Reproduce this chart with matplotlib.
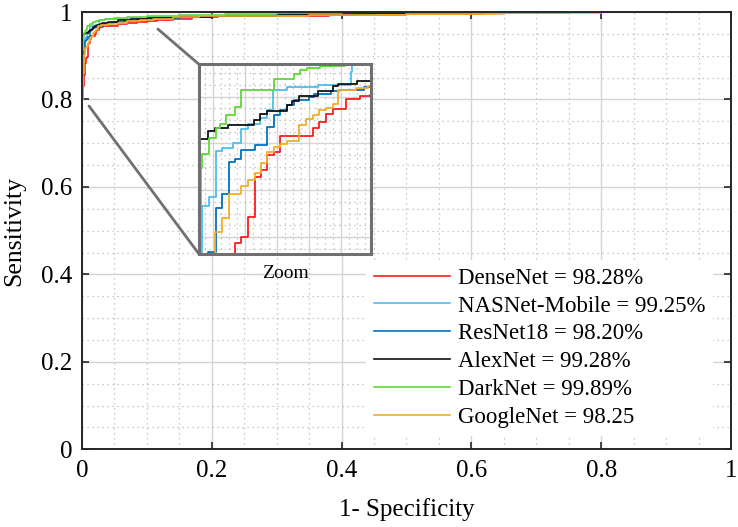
import numpy as np
import matplotlib
matplotlib.use('Agg')
import matplotlib.pyplot as plt
from matplotlib.ticker import MultipleLocator, FixedLocator, FuncFormatter
from matplotlib.patches import ConnectionPatch

plt.rcParams['font.family'] = ['Liberation Serif', 'DejaVu Serif']

# ---------------- data (ROC points: FPR, TPR) ----------------
densenet_fpr = [0, 0, 0.0012, 0.0025, 0.0040, 0.0052, 0.0063, 0.0073, 0.0085, 0.0097, 0.0108, 0.0119,
                0.0131, 0.0141, 0.0198, 0.0209, 0.0221, 0.0233, 0.0256, 0.0280, 0.0298,
                0.033, 0.04, 0.055, 0.07, 0.085, 0.1, 0.115, 0.14, 0.17, 0.21, 0.28, 0.38, 0.5, 0.62, 0.75, 1.0]
densenet_tpr = [0, 0.80, 0.83, 0.855, 0.872, 0.884, 0.8951, 0.8979, 0.9077, 0.9266, 0.9298, 0.9369,
                0.9382, 0.9459, 0.9498, 0.9527, 0.9566, 0.9590, 0.9637, 0.9648, 0.9656,
                0.967, 0.969, 0.972, 0.975, 0.977, 0.979, 0.982, 0.985, 0.988, 0.990, 0.992, 0.994, 0.996, 0.998, 1.0, 1.0]

nasnet_fpr = [0, 0, 0.0001, 0.0005, 0.0017, 0.0030, 0.0041, 0.0060, 0.0073, 0.0086, 0.0106, 0.0118,
              0.0129, 0.0153, 0.0208, 0.0265, 0.0267, 0.0275,
              0.035, 0.05, 0.07, 0.1, 0.15, 0.22, 0.32, 0.45, 0.5, 1.0]
nasnet_tpr = [0, 0.76, 0.86, 0.9129, 0.9172, 0.9388, 0.9405, 0.9429, 0.9492, 0.9519, 0.9543, 0.9582,
              0.9677, 0.9691, 0.9704, 0.9764, 0.9795, 0.9815,
              0.983, 0.985, 0.987, 0.989, 0.991, 0.993, 0.996, 0.999, 1.0, 1.0]

resnet_fpr = [0, 0, 0.0006, 0.0009, 0.0016, 0.0029, 0.0040, 0.0052, 0.0063, 0.0073, 0.0098, 0.0118,
              0.0130, 0.0141, 0.0153, 0.0166, 0.0192, 0.0201, 0.0230, 0.0244, 0.0287,
              0.032, 0.04, 0.05, 0.065, 0.085, 0.11, 0.15, 0.2, 0.3, 0.42, 0.55, 1.0]
resnet_tpr = [0, 0.77, 0.85, 0.87, 0.8911, 0.9116, 0.9187, 0.9337, 0.9353, 0.9393, 0.9419, 0.9503,
              0.9558, 0.9582, 0.9609, 0.9630, 0.9645, 0.9661, 0.9672, 0.9680, 0.9690,
              0.972, 0.975, 0.977, 0.980, 0.983, 0.986, 0.989, 0.991, 0.994, 0.997, 1.0, 1.0]

alexnet_fpr = [0, 0, 0.0001, 0.0016, 0.0028, 0.0051, 0.0096, 0.0106, 0.0119, 0.0153, 0.0162, 0.0175,
               0.0208, 0.0233, 0.0243, 0.0275,
               0.031, 0.04, 0.055, 0.075, 0.1, 0.14, 0.2, 0.3, 0.45, 0.6, 1.0]
alexnet_tpr = [0, 0.82, 0.9445, 0.9483, 0.9498, 0.9514, 0.9535, 0.9563, 0.9579, 0.9606, 0.9626, 0.9648,
               0.9672, 0.9696, 0.9708, 0.9719,
               0.974, 0.977, 0.981, 0.984, 0.987, 0.989, 0.992, 0.995, 0.998, 1.0, 1.0]

darknet_fpr = [0, 0, 0.0001, 0.0004, 0.0006, 0.0017, 0.0030, 0.0036, 0.0047, 0.0063, 0.0073, 0.0131,
               0.0166, 0.0177, 0.0188, 0.0211, 0.0255,
               0.035, 0.05, 0.07, 0.1, 0.15, 0.22, 0.3, 0.4, 0.45, 1.0]
darknet_tpr = [0, 0.73, 0.88, 0.9306, 0.9374, 0.9448, 0.9498, 0.9519, 0.9558, 0.9598, 0.9677, 0.9732,
               0.9756, 0.9772, 0.9783, 0.9792, 0.9815,
               0.984, 0.987, 0.989, 0.991, 0.993, 0.995, 0.997, 0.999, 1.0, 1.0]

googlenet_fpr = [0, 0, 0.0007, 0.0016, 0.0028, 0.0040, 0.0052, 0.0074, 0.0086, 0.0097, 0.0108, 0.0119,
                 0.0131, 0.0141, 0.0153, 0.0175, 0.0187, 0.0198, 0.0210, 0.0222, 0.0233, 0.0243, 0.0273, 0.0294,
                 0.033, 0.04, 0.055, 0.07, 0.09, 0.11, 0.14, 0.18, 0.25, 0.35, 0.5, 0.65, 0.8, 1.0]
googlenet_tpr = [0, 0.645, 0.80, 0.86, 0.9006, 0.9069, 0.9187, 0.9224, 0.9251, 0.9282, 0.9334, 0.9385,
                 0.9408, 0.9424, 0.9435, 0.9511, 0.9540, 0.9558, 0.9582, 0.9595, 0.9614, 0.9680, 0.9688, 0.9697,
                 0.971, 0.973, 0.976, 0.979, 0.982, 0.985, 0.988, 0.990, 0.992, 0.994, 0.996, 0.998, 1.0, 1.0]

labels = ['DenseNet = 98.28%', 'NASNet-Mobile = 99.25%', 'ResNet18 = 98.20%',
          'AlexNet = 99.28%', 'DarkNet = 99.89%', 'GoogleNet = 98.25']
colors = ['#FF1A1A', '#4DBEEE', '#0072BD', '#111111', '#5FD83A', '#F2AE2A']
curves = [(densenet_fpr, densenet_tpr), (nasnet_fpr, nasnet_tpr), (resnet_fpr, resnet_tpr),
          (alexnet_fpr, alexnet_tpr), (darknet_fpr, darknet_tpr), (googlenet_fpr, googlenet_tpr)]

tick_vals = [0, 0.2, 0.4, 0.6, 0.8, 1]

# ---------------- figure ----------------
fig = plt.figure(figsize=(7.38, 5.27), dpi=100)
ax = fig.add_axes([0.1111, 0.1474, 0.8794, 0.8298])

for (f, t), c, lab in zip(curves, colors, labels):
    ax.plot(f, t, drawstyle='steps-post', color=c, lw=1.2, label=lab)

ax.set_xlim(0, 1)
ax.set_ylim(0, 1)
ax.xaxis.set_major_locator(FixedLocator(tick_vals))
ax.yaxis.set_major_locator(FixedLocator(tick_vals))
ax.xaxis.set_minor_locator(MultipleLocator(0.05))
ax.yaxis.set_minor_locator(MultipleLocator(0.05))
fmt = FuncFormatter(lambda v, p: f'{v:g}')
ax.xaxis.set_major_formatter(fmt)
ax.yaxis.set_major_formatter(fmt)
ax.set_axisbelow(True)
ax.grid(which='major', color='#d4d4d4', lw=1.0, ls='-')
ax.grid(which='minor', color='#b8b8b8', lw=0.9, ls=(0, (1, 3)))
ax.tick_params(which='major', direction='in', top=True, right=True, length=5, width=1.2,
               labelsize=18, color='#262626')
ax.tick_params(axis='x', which='major', pad=8)
ax.tick_params(axis='y', which='major', pad=7)
ax.tick_params(which='minor', length=0)
for s in ax.spines.values():
    s.set_color('#262626')
    s.set_linewidth(1.4)
ax.set_xlabel('1- Specificity', fontsize=18, labelpad=11)
ax.set_ylabel('Sensitivity', fontsize=18.5, labelpad=11)

leg = ax.legend(loc='center left', bbox_to_anchor=(0.438, 0.232), fontsize=16.5, frameon=True,
                fancybox=False, edgecolor='none', facecolor='white', framealpha=1,
                handlelength=3.3, handletextpad=0.35, labelspacing=0.3, borderpad=0.35,
                borderaxespad=0)

# ---------------- inset ----------------
axins = fig.add_axes([0.2696, 0.518, 0.2331, 0.36])
for (f, t), c in zip(curves, colors):
    axins.plot(f, t, drawstyle='steps-post', color=c, lw=1.3)
ix0, ix1 = 0.0, 0.03
iy0, iy1 = 0.89, 0.98
axins.set_xlim(ix0, ix1)
axins.set_ylim(iy0, iy1)
xw, yh = ix1 - ix0, iy1 - iy0
xmaj = ix0 + xw * (0.081 + 0.186 * np.arange(5))
ymaj = iy0 + yh * (0.089 + 0.247 * np.arange(4))
xmin_ = ix0 + xw * (0.081 + 0.0465 * np.arange(-1, 20))
ymin_ = iy0 + yh * (0.089 + 0.06175 * np.arange(-1, 16))
axins.xaxis.set_major_locator(FixedLocator(xmaj))
axins.yaxis.set_major_locator(FixedLocator(ymaj))
axins.xaxis.set_minor_locator(FixedLocator(xmin_[(xmin_ > ix0) & (xmin_ < ix1)]))
axins.yaxis.set_minor_locator(FixedLocator(ymin_[(ymin_ > iy0) & (ymin_ < iy1)]))
axins.set_axisbelow(True)
axins.grid(which='major', color='#d4d4d4', lw=1.0, ls='-')
axins.grid(which='minor', color='#b8b8b8', lw=0.9, ls=(0, (1, 3)))
axins.tick_params(which='both', length=0, labelbottom=False, labelleft=False)
for s in axins.spines.values():
    s.set_color('#707070')
    s.set_linewidth(2.2)
axins.set_xlabel('Zoom', fontsize=14, labelpad=8)

# connector lines
for xyA, xyB in [((0.117, 0.961), (0, 1)), ((0.0108, 0.785), (0, 0))]:
    cp = ConnectionPatch(xyA=xyA, coordsA=ax.transData, xyB=xyB, coordsB=axins.transAxes,
                         color='#707070', lw=2.0)
    fig.add_artist(cp)

fig.savefig('out.png', dpi=100)
